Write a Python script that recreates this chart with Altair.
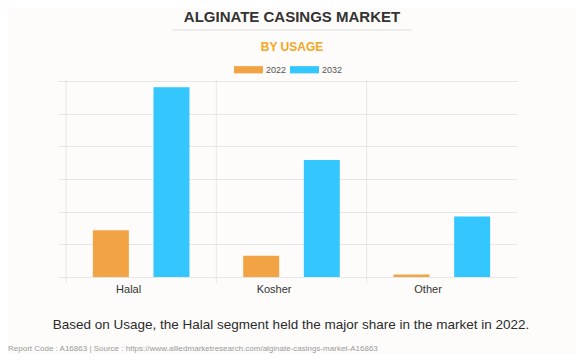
import altair as alt
import pandas as pd

categories = ["Halal", "Kosher", "Other"]
years = ["2022", "2032"]
values_2022 = [1.43, 0.65, 0.08]
values_2032 = [5.81, 3.58, 1.85]
colors = ["#F2A444", "#33C6FF"]
y_ticks = [0, 1, 2, 3, 4, 5, 6]

title_text = "ALGINATE CASINGS MARKET"
subtitle_text = "BY USAGE"
caption_text = "Based on Usage, the Halal segment held the major share in the market in 2022."
footer_text = "Report Code : A16863  |  Source : https://www.alliedmarketresearch.com/alginate-casings-market-A16863"

rows = []
for i, c in enumerate(categories):
    rows.append({"Usage": c, "Year": "2022", "Value": values_2022[i]})
    rows.append({"Usage": c, "Year": "2032", "Value": values_2032[i]})
df = pd.DataFrame(rows)
cat_df = pd.DataFrame({"Usage": categories})
one = pd.DataFrame({"k": [0]})

FONT = "Liberation Sans"
W, H = 451, 196

x_scale = alt.Scale(domain=categories, paddingInner=0, paddingOuter=0)

bars = alt.Chart(df).mark_bar(width=36).encode(
    x=alt.X("Usage:N", scale=x_scale, sort=categories,
            axis=alt.Axis(title=None, domain=False, ticks=False, grid=False,
                          labelAngle=0, labelFont=FONT, labelFontSize=11,
                          labelColor="#333333", labelPadding=12)),
    xOffset=alt.XOffset("Year:N", scale=alt.Scale(paddingInner=0.4, paddingOuter=0.44)),
    y=alt.Y("Value:Q", scale=alt.Scale(domain=[0, 6], nice=False),
            axis=alt.Axis(title=None, labels=False, domain=False,
                          values=y_ticks, tickSize=8,
                          tickColor="#e6e6e6", gridColor="#e6e6e6")),
    color=alt.Color("Year:N", scale=alt.Scale(domain=years, range=colors),
                    legend=alt.Legend(title=None, orient="none", direction="horizontal",
                                      legendX=168, legendY=-26,
                                      symbolType="M-1,-0.25H1V0.25H-1Z", symbolSize=841,
                                      symbolStrokeWidth=0, labelFont=FONT, labelFontSize=9,
                                      labelColor="#555555", labelOffset=3, columnPadding=3)),
)

vlines = alt.Chart(cat_df).mark_rule(color="#e6e6e6", strokeWidth=1).encode(
    x=alt.X("Usage:N", bandPosition=0, sort=categories),
    y=alt.value(-1),
    y2=alt.value(202),
)

title = alt.Chart(one).mark_text(text=title_text, font=FONT, fontSize=15, fontWeight="bold",
                                 color="#333333", align="center", baseline="middle").encode(
    x=alt.value(226), y=alt.value(-64))
title_rule = alt.Chart(one).mark_rule(color="#dddddd", strokeWidth=1).encode(
    x=alt.value(106), x2=alt.value(346), y=alt.value(-51))
subtitle = alt.Chart(one).mark_text(text=subtitle_text, font=FONT, fontSize=12, fontWeight="bold",
                                    color="#F5A623", align="center", baseline="middle").encode(
    x=alt.value(226), y=alt.value(-34))
caption = alt.Chart(one).mark_text(text=caption_text, font=FONT, fontSize=13.5,
                                   color="#2b2b2b", align="center", baseline="middle").encode(
    x=alt.value(225), y=alt.value(244))
footer = alt.Chart(one).mark_text(text=footer_text, font=FONT, fontSize=8,
                                  color="#999999", align="left", baseline="middle").encode(
    x=alt.value(-58), y=alt.value(268))

chart = alt.layer(vlines, bars, title, title_rule, subtitle, caption, footer).properties(
    width=W, height=H,
    autosize=alt.AutoSizeParams(type="none"),
    padding={"left": 58, "top": 73, "right": 59, "bottom": 77},
    background="#fdfcfb",
).configure_view(stroke=None).resolve_scale(x="shared")

chart.save("out.html", embed_options={"renderer": "svg", "actions": False})
